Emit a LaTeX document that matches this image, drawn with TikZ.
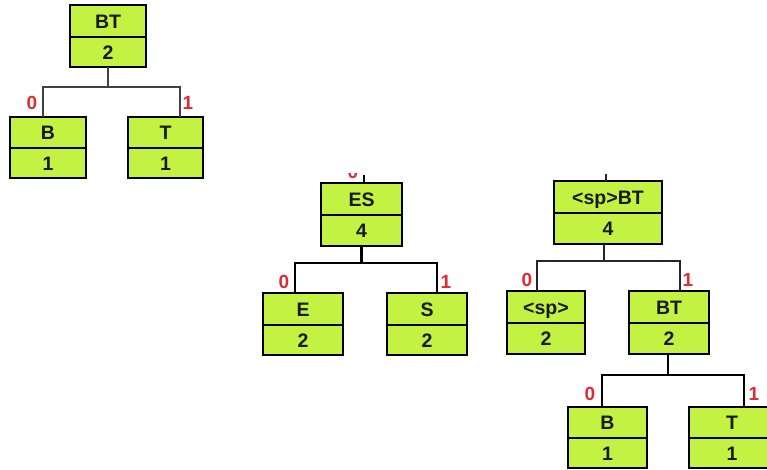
\documentclass[tikz,border=0pt]{standalone}
\usepackage{fontspec}
\setmainfont{Liberation Sans}
\usetikzlibrary{calc}
\definecolor{nodefill}{RGB}{195,242,66}
\definecolor{bitred}{RGB}{222,45,50}

% Two-part Huffman node: name, x1, y1, x2, y2, divider y, symbols, weight
\newcommand\huffbox[8]{%
  \node[tbox, anchor=north west, minimum width={#4-#2}, minimum height={#5-#3}] (#1) at (#2,#3) {};
  \coordinate (#1-d) at (0,#6);
  \draw[divline] (#1.west |- #1-d) -- (#1.east |- #1-d);
  \coordinate (#1-tb) at (0,{(#3+#6)/2+7});
  \coordinate (#1-bb) at (0,{(#6+#5)/2+7});
  \node[boxtext] (#1-sym) at (#1.center |- #1-tb) {#7};
  \node[boxtext] (#1-wt) at (#1.center |- #1-bb) {#8};
}

\tikzset{
  tbox/.style={draw=black, fill=nodefill, line width=2pt, inner sep=0pt, outer sep=0pt},
  divline/.style={line width=1.4pt, black},
  boxtext/.style={anchor=base, inner sep=0pt, font=\fontsize{19.5}{20}\selectfont\bfseries, text=black!90},
  bitlabel/.style={inner sep=0pt, font=\fontsize{19}{19}\selectfont\bfseries, text=bitred},
  edgeA/.style={line width=1.6pt, black!75},
  edgeB/.style={line width=2.4pt, black},
  edgeC/.style={line width=1.8pt, black!85},
}

\begin{document}
\begin{tikzpicture}[x=1pt, y=-1pt]
  \clip (0,0) rectangle (767,469);
  \fill[white] (0,0) rectangle (767,469);

  % ---- tree for BT ----
  \huffbox{bta}{70}{5}{146}{67}{37}{BT}{2}
  \huffbox{ba}{10}{117}{86}{178}{148}{B}{1}
  \huffbox{ta}{128}{117}{203}{178}{148}{T}{1}
  \coordinate (bta-l) at (43,87);
  \coordinate (bta-r) at (180,87);
  \draw[edgeA] (bta.south) -- (bta.south |- bta-l);
  \draw[edgeA] (ba.north -| bta-l) -- (bta-l) -- (bta-r) -- (ta.north -| bta-r);
  \node[bitlabel] (bta-0) at (32,103) {0};
  \node[bitlabel] (bta-1) at (188,103) {1};

  % ---- tree for ES ----
  \huffbox{es}{321}{183}{402}{246}{215}{ES}{4}
  \huffbox{eb}{263}{293}{343}{355}{325}{E}{2}
  \huffbox{sb}{387}{293}{467}{355}{325}{S}{2}
  \coordinate (es-in) at (364,175);
  \draw[edgeB] (es-in) -- (es.north -| es-in);
  \begin{scope}
    \clip (300,173) rectangle (420,200);
    \node[bitlabel] (es-bit) at (353,171.5) {0};
  \end{scope}
  \coordinate (es-l) at (295,263);
  \coordinate (es-r) at (437,263);
  \draw[edgeB] (es.south) -- (es.south |- es-l);
  \draw[edgeB] (eb.north -| es-l) -- (es-l) -- (es-r) -- (sb.north -| es-r);
  \node[bitlabel] (es-0) at (284,282) {0};
  \node[bitlabel] (es-1) at (446,282) {1};

  % ---- tree for <sp>BT ----
  \huffbox{spbt}{554}{181}{662}{244}{213}{<sp>BT}{4}
  \huffbox{sp}{507}{291}{585}{354}{323}{<sp>}{2}
  \huffbox{btc}{629}{291}{709}{354}{323}{BT}{2}
  \huffbox{bc}{568}{407}{647}{468}{438}{B}{1}
  \huffbox{tc}{689}{407}{775}{468}{438}{T}{1}
  \coordinate (spbt-in) at (606,174);
  \draw[edgeC] (spbt-in) -- (spbt.north -| spbt-in);
  \coordinate (spbt-m) at (604,261);
  \coordinate (spbt-l) at (537,261);
  \coordinate (spbt-r) at (680,261);
  \draw[edgeC] (spbt.south -| spbt-m) -- (spbt-m);
  \draw[edgeC] (sp.north -| spbt-l) -- (spbt-l) -- (spbt-r) -- (btc.north -| spbt-r);
  \node[bitlabel] (spbt-0) at (527,280) {0};
  \node[bitlabel] (spbt-1) at (688,280) {1};

  \coordinate (btc-m) at (668,375);
  \coordinate (btc-l) at (602,375);
  \coordinate (btc-r) at (744,375);
  \draw[edgeB] (btc.south -| btc-m) -- (btc-m);
  \draw[edgeB] (bc.north -| btc-l) -- (btc-l) -- (btc-r) -- (tc.north -| btc-r);
  \node[bitlabel] (btc-0) at (590,394) {0};
  \node[bitlabel] (btc-1) at (754,394) {1};
\end{tikzpicture}
\end{document}
